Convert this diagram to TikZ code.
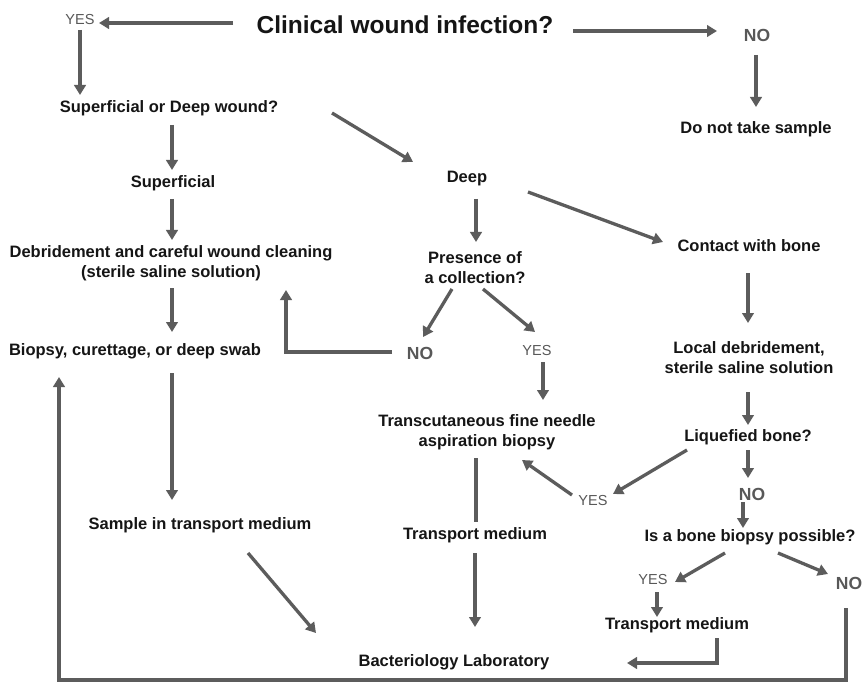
\documentclass[tikz,border=0pt]{standalone}
\usepackage{fontspec}
\setmainfont{Liberation Sans}
\usetikzlibrary{arrows.meta,calc}
\definecolor{ink}{HTML}{151515}
\definecolor{arrowgray}{HTML}{5C5C5C}
\definecolor{labelgray}{HTML}{585858}

\begin{document}
\begin{tikzpicture}[x=1pt,y=-1pt,
  txt/.style={text=ink,font=\fontsize{16.5}{20}\selectfont\bfseries,inner sep=0pt,align=center},
  oneline/.style={txt,text height=11.8pt,text depth=3.4pt},
  headline/.style={text=ink,font=\fontsize{24.5}{29}\selectfont\bfseries,inner sep=0pt,text height=17.5pt,text depth=5pt},
  yeslbl/.style={text=labelgray,font=\fontsize{14.5}{17}\selectfont,inner sep=0pt,text height=10.5pt,text depth=0pt},
  nolbl/.style={text=labelgray,font=\fontsize{17.5}{20}\selectfont\bfseries,inner sep=0pt,text height=12.6pt,text depth=0pt},
  arr/.style={draw=arrowgray,line width=3.3pt,-{Triangle[length=10pt,width=11.5pt]}},
  link/.style={draw=arrowgray,line width=3.3pt}]
\useasboundingbox[fill=white] (0,0) rectangle (863,682);

% ---- text of the flow chart ----
\node[headline] (title) at (405,27) {Clinical wound infection?};
\node[yeslbl] (yes1) at (80,19) {YES};
\node[nolbl] (no1) at (757,35) {NO};
\node[oneline] (sodw) at (169,108) {Superficial or Deep wound?};
\node[oneline] (dnts) at (756,129) {Do not take sample};
\node[oneline] (sup) at (173,183) {Superficial};
\node[txt] (debr) at (171,263) {Debridement and careful wound cleaning\\(sterile saline solution)};
\node[oneline] (biop) at (135,351) {Biopsy, curettage, or deep swab};
\node[oneline] (sample) at (200,525) {Sample in transport medium};
\node[oneline] (deep) at (467,178) {Deep};
\node[txt] (pres) at (475,268) {Presence of\\a collection?};
\node[nolbl] (no2) at (420,353) {NO};
\node[yeslbl] (yes2) at (537,350) {YES};
\node[oneline] (contact) at (749,247) {Contact with bone};
\node[txt] (local) at (749,358) {Local debridement,\\sterile saline solution};
\node[txt] (trans) at (487,432) {Transcutaneous fine needle\\aspiration biopsy};
\node[oneline] (liq) at (748,437) {Liquefied bone?};
\node[yeslbl] (yes3) at (593,500) {YES};
\node[nolbl] (no3) at (752,494) {NO};
\node[oneline] (isbb) at (750,537) {Is a bone biopsy possible?};
\node[yeslbl] (yes4) at (653,579) {YES};
\node[nolbl] (no4) at (849,583) {NO};
\node[oneline] (tm2) at (475,535) {Transport medium};
\node[oneline] (tm3) at (677,625) {Transport medium};
\node[oneline] (lab) at (454,662) {Bacteriology Laboratory};

% ---- connectors ----
\draw[arr] ($(title)+(-172,-4)$) -- ($(yes1)+(19,4)$);
\draw[arr] ($(title)+(168,4)$) -- ($(no1)+(-40,-4)$);
\draw[arr] ($(yes1)+(0,11)$) -- ($(sodw)+(-89,-13)$);
\draw[arr] ($(no1)+(-1,20)$) -- ($(dnts)+(0,-22)$);
\draw[arr] ($(sodw)+(3,17)$) -- ($(sup)+(-1,-13)$);
\draw[arr] ($(sodw)+(163,5)$) -- ($(deep)+(-54,-16)$);
\draw[arr] ($(sup)+(-1,16)$) -- ($(debr)+(1,-23)$);
\draw[arr] ($(debr)+(1,25)$) -- ($(biop)+(37,-19)$);
\draw[arr] ($(biop)+(37,22)$) -- ($(sample)+(-28,-25)$);
\draw[arr] ($(sample)+(48,28)$) -- ($(lab)+(-138,-29)$);
\draw[arr] ($(deep)+(9,21)$) -- ($(pres)+(1,-26)$);
\draw[arr] ($(deep)+(61,14)$) -- ($(contact)+(-86,-5)$);
\draw[arr] ($(pres)+(-23,21)$) -- ($(no2)+(3,-16)$);
\draw[arr] ($(pres)+(8,21)$) -- ($(yes2)+(-2,-18)$);
\draw[arr] ($(no2)+(-28,-1)$) -| ($(debr)+(115,27)$);
\draw[arr] ($(yes2)+(6,12)$) -- ($(trans)+(56,-32)$);
\draw[link] ($(trans)+(-11,26)$) -- ($(tm2)+(1,-13)$);
\draw[arr] ($(tm2)+(0,18)$) -- ($(lab)+(21,-35)$);
\draw[arr] ($(contact)+(-1,26)$) -- ($(local)+(-1,-35)$);
\draw[arr] ($(local)+(-1,34)$) -- ($(liq)+(0,-12)$);
\draw[arr] ($(liq)+(-61,13)$) -- ($(yes3)+(20,-6)$);
\draw[arr] ($(yes3)+(-21,-5)$) -- ($(trans)+(35,28)$);
\draw[arr] ($(liq)+(0,13)$) -- ($(no3)+(-4,-16)$);
\draw[arr] ($(no3)+(-9,8)$) -- ($(isbb)+(-7,-9)$);
\draw[arr] ($(isbb)+(-25,16)$) -- ($(yes4)+(22,3)$);
\draw[arr] ($(isbb)+(28,16)$) -- ($(no4)+(-21,-9)$);
\draw[arr] ($(yes4)+(4,13)$) -- ($(tm3)+(-20,-8)$);
\draw[arr] ($(tm3)+(40,13)$) |- ($(lab)+(173,1)$);
\draw[arr] ($(no4)+(-3,25)$) -- ($(no4)+(-3,97)$) -| ($(biop)+(-76,26)$);
\end{tikzpicture}
\end{document}
